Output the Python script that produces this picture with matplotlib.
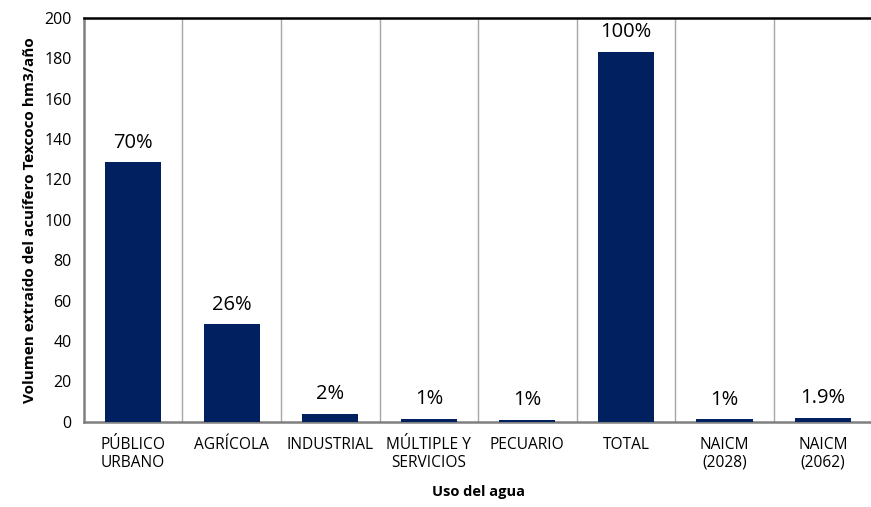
import numpy as np
import matplotlib
matplotlib.use("Agg")
from matplotlib import pyplot as plt

categorias = ["PÚBLICO\nURBANO", "AGRÍCOLA", "INDUSTRIAL", "MÚLTIPLE Y\nSERVICIOS",
              "PECUARIO", "TOTAL", "NAICM\n(2028)", "NAICM\n(2062)"]
volumen = [128.4, 48.3, 3.8, 1.3, 0.8, 183.2, 1.2, 2.0]
porcentajes = ["70%", "26%", "2%", "1%", "1%", "100%", "1%", "1.9%"]
yticks = [0, 20, 40, 60, 80, 100, 120, 140, 160, 180, 200]

plt.rcParams['font.family'] = ['Open Sans', 'DejaVu Sans']

fig = plt.figure(figsize=(8.71, 5.07), dpi=100)
ax = fig.add_axes([0.0964, 0.168, 0.905, 0.797])

x = np.arange(len(categorias))
bars = ax.bar(x, volumen, width=0.57, color="#002060", zorder=3)

for xi, v, p in zip(x, volumen, porcentajes):
    ax.annotate(p, (xi, v), xytext=(0, 7), textcoords="offset points",
                ha="center", va="bottom", fontsize=14.5, color="black")

ax.set_xlim(-0.5, len(categorias) - 0.5)
ax.set_ylim(0, 200)
ax.set_yticks(yticks)
ax.set_xticks(x)
ax.set_xticklabels(categorias, fontsize=11.2, linespacing=1.15)
ax.tick_params(axis="y", labelsize=11.5, length=0, pad=9)
ax.tick_params(axis="x", length=0, pad=11)

# separadores verticales entre categorias
ax.set_xticks(np.arange(0.5, len(categorias) - 0.5, 1), minor=True)
ax.tick_params(axis="x", which="minor", length=0)
ax.grid(axis="x", which="minor", color="#a6a6a6", linewidth=1)
ax.grid(axis="x", which="major", visible=False)
ax.set_axisbelow(True)

ax.spines["top"].set_color("black")
ax.spines["top"].set_linewidth(1.8)
ax.spines["left"].set_color("#7f7f7f")
ax.spines["left"].set_linewidth(1.8)
ax.spines["bottom"].set_color("#7f7f7f")
ax.spines["bottom"].set_linewidth(1.8)
ax.spines["right"].set_visible(False)

ax.set_xlabel("Uso del agua", fontsize=10.5, fontweight="bold", labelpad=10)
ax.set_ylabel("Volumen extraído del acuífero Texcoco hm3/año", fontsize=11,
              fontweight="bold", labelpad=5)

fig.savefig("out.png", dpi=100)
